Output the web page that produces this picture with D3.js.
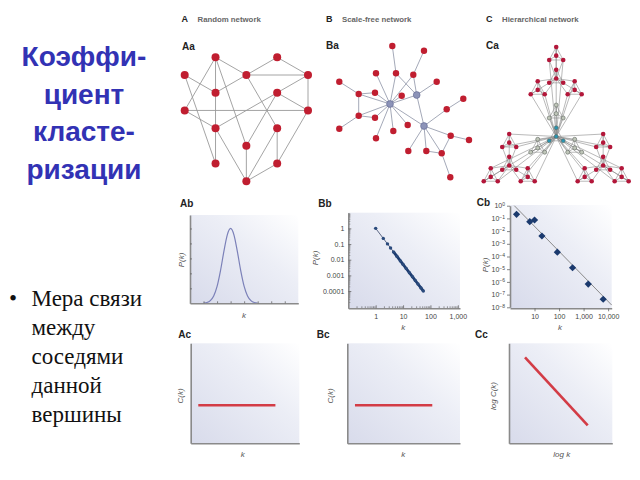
<!DOCTYPE html>
<html>
<head>
<meta charset="utf-8">
<script src="https://cdn.jsdelivr.net/npm/d3@7"></script>
<style>
  html, body { margin: 0; padding: 0; background: #fff; }
  svg { display: block; }
</style>
</head>
<body>
<svg id="chart" width="640" height="480"></svg>
<script>
//
// Clustering coefficient slide: three network types with P(k) and C(k) plots
//

// ---------- text ----------
const titleLines = ["Коэффи-", "циент", "класте-", "ризации"];
const bulletLines = ["Мера связи", "между", "соседями", "данной", "вершины"];
const headLetters = ["A", "B", "C"];
const headTexts = ["Random network", "Scale-free network", "Hierarchical network"];
const panelTags = ["Aa", "Ba", "Ca", "Ab", "Bb", "Cb", "Ac", "Bc", "Cc"];

// ---------- Aa: random network (column, row) ----------
const randNodes = [[1,0],[3,0],[0,1],[2,1],[4,1],[1,2],[3,2],[0,3],[4,3],[1,4],[3,4],[2,5],[1,6],[3,6],[2,7]];
const randLinks = [[0,5],[0,3],[0,7],[0,11],[2,5],[2,12],[3,1],[1,4],[3,4],[3,5],[3,10],[4,6],[4,8],
                   [6,8],[6,9],[6,11],[7,8],[7,9],[5,9],[9,14],[9,12],[8,13],[10,13],[10,14],[11,14],[13,14]];

// ---------- Ba: scale-free network ----------
const sfNodes = [
  {id:"H1", x:65,    y:64,    hub:true},
  {id:"H2", x:91.7,  y:55,    hub:true},
  {id:"H3", x:99,    y:86,    hub:true},
  {id:"a",  x:67.3,  y:6},   {id:"b", x:99,    y:10.7},
  {id:"c",  x:51,    y:33.3},{id:"d", x:71,    y:33.3},
  {id:"e",  x:88.3,  y:34.7},{id:"f", x:111.7, y:41.7},
  {id:"g",  x:14.3,  y:41.7},{id:"h", x:33.7,  y:54},
  {id:"i",  x:50,    y:52.7},{id:"j", x:76.7,  y:55.7},
  {id:"k",  x:138.3, y:58.7},{id:"l", x:121.7, y:69.3},
  {id:"m",  x:33.7,  y:75.7},{id:"n", x:50,    y:77.7},
  {id:"o",  x:82.7,  y:85},  {id:"p", x:14.3,  y:88.7},
  {id:"q",  x:68.3,  y:91},  {id:"r", x:51,    y:98.3},
  {id:"s",  x:125.7, y:95.7},{id:"t", x:144,   y:100},
  {id:"u",  x:83.3,  y:111}, {id:"v", x:101.3, y:111},
  {id:"w",  x:116.7, y:113.3},{id:"x", x:125.3, y:137.3}
];
const sfLinks = [["a","d"],["d","H1"],["d","H2"],["b","e"],["e","H2"],["e","H1"],["c","H1"],["f","H2"],
  ["g","h"],["h","i"],["h","H1"],["h","m"],["i","H1"],["j","H1"],["H1","H2"],["H1","H3"],["H2","H3"],
  ["m","n"],["m","H1"],["m","p"],["n","H1"],["q","H1"],["r","H1"],["o","H1"],["H3","l"],["l","k"],
  ["H3","s"],["s","t"],["H3","u"],["H3","v"],["H3","w"],["v","w"],["w","s"],["w","x"]];

// ---------- Ca: hierarchical network ----------
const triDirs = [[0,-1],[-0.866,0.5],[0.866,0.5],[0,0]];   // three corners + centre
const hierRadii = [0.94, 0.37, 0.14];                       // cluster, module, node

// ---------- Ab: Poisson-like P(k) ----------
const abK = [1,1.25,1.5,1.75,2,2.25,2.5,2.75,3,3.25,3.5,3.75,4,4.25,4.5,4.75,5];
const abP = [0.01,0.05,0.18,0.49,1.13,2.17,3.45,4.56,5.0,4.56,3.45,2.17,1.13,0.49,0.18,0.05,0.01];

// ---------- Bb: power law P(k) ----------
const bbK = [1,1.9,2.7,3.5,4.5,6,8,10,13,17,22,28,35,45,55];
const bbP = [1,0.228,0.102,0.056,0.0314,0.0162,0.0084,0.005,0.00274,0.00148,0.00082,0.00047,0.00028,0.000158,0.0000995];
const bbTicksY = [1,0.1,0.01,0.001,0.0001];
const bbTicksX = [1,10,100,1000];

// ---------- Cb: measured P(k) ----------
const cbK = [1.85,6.4,10,20,85,355,1550,6300];
const cbP = [0.21,0.055,0.075,0.0041,0.00022,0.000013,0.00000068,0.000000043];
const cbFitK = [1.5,14000];
const cbFitP = [1,0.000000015];
const cbTicksY = [0,-1,-2,-3,-4,-5,-6,-7,-8];
const cbTicksX = [10,100,1000,10000];

// ---------- bottom row C(k) ----------
const acLine = [[0.7,0.38],[7.8,0.38]];
const bcLine = [[0.68,0.38],[7.54,0.38]];
const ccLine = [[1.55,8.6],[7.62,1.8]];

// ---------- colours ----------
const RED = "#c01e30";
const FONT = "Liberation Sans, Arial, sans-serif";

const svg = d3.select("#chart");

// plot background gradient
const grad = svg.append("defs").append("linearGradient")
    .attr("id", "bg").attr("x1", 0).attr("y1", 1).attr("x2", 1).attr("y2", 0);
grad.append("stop").attr("offset", 0).attr("stop-color", "#d8dbeb");
grad.append("stop").attr("offset", 0.6).attr("stop-color", "#eceef6");
grad.append("stop").attr("offset", 1).attr("stop-color", "#ffffff");

// ----------------------------------------
// LEFT TEXT
// ----------------------------------------
svg.append("g").selectAll("text").data(titleLines).join("text")
    .attr("x", 84).attr("y", (d, i) => 66 + i * 37.5)
    .attr("text-anchor", "middle")
    .attr("font-family", FONT).attr("font-weight", "bold").attr("font-size", 28)
    .attr("fill", "#3232b4")
    .text(d => d);

svg.append("text").attr("x", 13).attr("y", 306)
    .attr("text-anchor", "middle")
    .attr("font-family", "Liberation Serif, serif").attr("font-size", 23).attr("fill", "#111")
    .text("•");
svg.append("g").selectAll("text").data(bulletLines).join("text")
    .attr("x", 31.5).attr("y", (d, i) => 306 + i * 29)
    .attr("font-family", "Liberation Serif, serif").attr("font-size", 23).attr("fill", "#111")
    .text(d => d);

// ----------------------------------------
// HEADERS AND PANEL TAGS
// ----------------------------------------
const headX = [181.5, 326, 486];
headLetters.forEach((l, i) => {
    svg.append("text").attr("x", headX[i]).attr("y", 22.3)
        .attr("font-family", FONT).attr("font-weight", "bold").attr("font-size", 9).attr("fill", "#222")
        .text(l);
    svg.append("text").attr("x", headX[i] + 16).attr("y", 22.3)
        .attr("font-family", FONT).attr("font-weight", "bold").attr("font-size", 7.8).attr("fill", "#666")
        .text(headTexts[i]);
});
const tagPos = [[182,50],[326,49],[486,49],[180,206.5],[318.3,206.5],[476.7,206],[178.3,338.3],[316.7,338.3],[475,338.3]];
panelTags.forEach((t, i) => {
    svg.append("text").attr("x", tagPos[i][0]).attr("y", tagPos[i][1])
        .attr("font-family", FONT).attr("font-weight", "bold").attr("font-size", 10).attr("fill", "#222")
        .text(t);
});

// ----------------------------------------
// Aa RANDOM NETWORK
// ----------------------------------------
const ax = d3.scaleLinear().domain([0, 4]).range([184.7, 308]);
const ay = d3.scaleLinear().domain([0, 7]).range([57.3, 181.3]);
const gA = svg.append("g");
gA.selectAll("line").data(randLinks).join("line")
    .attr("x1", d => ax(randNodes[d[0]][0])).attr("y1", d => ay(randNodes[d[0]][1]))
    .attr("x2", d => ax(randNodes[d[1]][0])).attr("y2", d => ay(randNodes[d[1]][1]))
    .attr("stroke", "#9a9a9a").attr("stroke-width", 0.9);
gA.selectAll("circle").data(randNodes).join("circle")
    .attr("cx", d => ax(d[0])).attr("cy", d => ay(d[1])).attr("r", 4)
    .attr("fill", RED);

// ----------------------------------------
// Ba SCALE-FREE NETWORK
// ----------------------------------------
const bx = d3.scaleLinear().domain([0, 145]).range([325, 470]);
const by = d3.scaleLinear().domain([0, 148]).range([40, 188]);
const sfById = new Map(sfNodes.map(n => [n.id, n]));
const gB = svg.append("g");
gB.selectAll("line").data(sfLinks).join("line")
    .attr("x1", d => bx(sfById.get(d[0]).x)).attr("y1", d => by(sfById.get(d[0]).y))
    .attr("x2", d => bx(sfById.get(d[1]).x)).attr("y2", d => by(sfById.get(d[1]).y))
    .attr("stroke", "#9a9fb0").attr("stroke-width", 0.9);
gB.selectAll("circle").data(sfNodes).join("circle")
    .attr("cx", d => bx(d.x)).attr("cy", d => by(d.y))
    .attr("r", d => d.hub ? 3.4 : 3.2)
    .attr("fill", d => d.hub ? "#8c93b8" : RED)
    .attr("stroke", d => d.hub ? "#5f6790" : "none").attr("stroke-width", 0.6);

// ----------------------------------------
// Ca HIERARCHICAL NETWORK
// ----------------------------------------
const hierNodes = [];
const hierLinks = [];
const hid = (i2, i1, i0) => (i2 * 4 + i1) * 4 + i0;
triDirs.forEach((c2, i2) => {
    triDirs.forEach((c1, i1) => {
        triDirs.forEach((c0, i0) => {
            hierNodes.push({
                u: c2[0] * hierRadii[0] + c1[0] * hierRadii[1] + c0[0] * hierRadii[2],
                v: c2[1] * hierRadii[0] + c1[1] * hierRadii[1] + c0[1] * hierRadii[2],
                kind: i2 < 3 ? "red" : (i1 < 3 ? "grey" : "teal")
            });
        });
        // module is a full clique
        for (let a = 0; a < 4; a++)
            for (let b = a + 1; b < 4; b++)
                hierLinks.push([hid(i2, i1, a), hid(i2, i1, b)]);
    });
    // peripheral nodes of peripheral modules -> cluster centre
    for (let i1 = 0; i1 < 3; i1++)
        for (let i0 = 0; i0 < 3; i0++)
            hierLinks.push([hid(i2, i1, i0), hid(i2, 3, 3)]);
});
// outermost nodes of corner clusters -> global centre
for (let i2 = 0; i2 < 3; i2++)
    for (let i1 = 0; i1 < 3; i1++)
        for (let i0 = 0; i0 < 3; i0++)
            hierLinks.push([hid(i2, i1, i0), hid(3, 3, 3)]);

const cx = d3.scaleLinear().domain([-1, 1]).range([556.2 - 57.7, 556.2 + 57.7]);
const cy = d3.scaleLinear().domain([-1, 1]).range([136.5 - 61.7, 136.5 + 61.7]);
const gC = svg.append("g");
gC.selectAll("line").data(hierLinks).join("line")
    .attr("x1", d => cx(hierNodes[d[0]].u)).attr("y1", d => cy(hierNodes[d[0]].v))
    .attr("x2", d => cx(hierNodes[d[1]].u)).attr("y2", d => cy(hierNodes[d[1]].v))
    .attr("stroke", "#8a8a8a").attr("stroke-width", 0.6);
gC.selectAll("circle").data(hierNodes).join("circle")
    .attr("cx", d => cx(d.u)).attr("cy", d => cy(d.v))
    .attr("r", d => d.kind === "red" ? 2.3 : 2)
    .attr("fill", d => d.kind === "red" ? "#b3173a" : d.kind === "grey" ? "#bfc6b9" : "#2a94b0")
    .attr("stroke", d => d.kind === "red" ? "none" : "#5f665f").attr("stroke-width", 0.6);

// ----------------------------------------
// PLOT HELPERS
// ----------------------------------------
function plotBg(x, y) {
    svg.append("rect")
        .attr("x", x.range()[0]).attr("y", y.range()[1])
        .attr("width", x.range()[1] - x.range()[0]).attr("height", y.range()[0] - y.range()[1])
        .attr("fill", "url(#bg)");
}
function styleAxis(g) {
    g.select(".domain").attr("stroke", "#8a8a8a").attr("stroke-width", 1.6);
    g.selectAll(".tick line").attr("stroke", "#666").attr("stroke-width", 0.8);
    g.selectAll(".tick text").attr("font-family", FONT).attr("font-size", 7).attr("fill", "#444");
}
function axes(x, y, opts) {
    const o = Object.assign({xt: [], yt: [], size: -2, fx: "", fy: ""}, opts);
    svg.append("g").attr("transform", `translate(0,${y.range()[0]})`)
        .call(d3.axisBottom(x).tickValues(o.xt).tickSizeInner(o.sizeX ?? o.size).tickSizeOuter(0)
            .tickPadding(o.padX ?? 3).tickFormat(o.fx))
        .call(styleAxis);
    svg.append("g").attr("transform", `translate(${x.range()[0]},0)`)
        .call(d3.axisLeft(y).tickValues(o.yt).tickSizeInner(o.sizeY ?? o.size).tickSizeOuter(0)
            .tickPadding(o.padY ?? 3).tickFormat(o.fy))
        .call(styleAxis);
}
function axisTitle(x, y, txt, rot) {
    svg.append("text")
        .attr("transform", `translate(${x},${y})` + (rot ? " rotate(-90)" : ""))
        .attr("text-anchor", "middle")
        .attr("font-family", FONT).attr("font-style", "italic").attr("font-size", 8).attr("fill", "#555")
        .text(txt);
}

// ----------------------------------------
// Ab
// ----------------------------------------
const abX = d3.scaleLinear().domain([0, 8]).range([190, 298.3]);
const abY = d3.scaleLinear().domain([0, 5.9]).range([303.3, 215]);
plotBg(abX, abY);
svg.append("path").datum(abK.map((k, i) => [k, abP[i]]))
    .attr("d", d3.line().x(d => abX(d[0])).y(d => abY(d[1])).curve(d3.curveMonotoneX))
    .attr("fill", "none").attr("stroke", "#7b80b8").attr("stroke-width", 1.2);
axes(abX, abY, {xt: [1,2,3,4,5,6,7], yt: [1,2,3,4,5]});
axisTitle(184, 260, "P(k)", true);
axisTitle(244, 318, "k", false);

// ----------------------------------------
// Bb
// ----------------------------------------
const bbX = d3.scaleLog().domain([0.1, 1200]).range([348.3, 460]);
const bbY = d3.scaleLog().domain([0.0000079, 10]).range([308.3, 212.7]);
plotBg(bbX, bbY);
const minorX = [], minorY = [];
[0.1, 1, 10, 100].forEach(d => { for (let m = 2; m < 10; m++) minorX.push(d * m); });
[0.00001, 0.0001, 0.001, 0.01, 0.1, 1].forEach(d => { for (let m = 2; m < 10; m++) minorY.push(d * m); });
svg.append("g").attr("transform", `translate(0,${bbY.range()[0]})`)
    .call(d3.axisBottom(bbX).tickValues(minorX.filter(v => v < 1200)).tickSize(-2).tickFormat(""))
    .call(g => g.select(".domain").remove())
    .call(g => g.selectAll(".tick line").attr("stroke", "#555").attr("stroke-width", 0.6));
svg.append("g").attr("transform", `translate(${bbX.range()[0]},0)`)
    .call(d3.axisLeft(bbY).tickValues(minorY.filter(v => v < 10)).tickSize(-2).tickFormat(""))
    .call(g => g.select(".domain").remove())
    .call(g => g.selectAll(".tick line").attr("stroke", "#555").attr("stroke-width", 0.6));
axes(bbX, bbY, {xt: bbTicksX, yt: bbTicksY, size: -3, padX: 6, padY: 4,
    fx: d3.format(","), fy: d => d >= 1 ? "1" : String(d)});
svg.append("path").datum(bbK.map((k, i) => [k, bbP[i]]))
    .attr("d", d3.line().x(d => bbX(d[0])).y(d => bbY(d[1])))
    .attr("fill", "none").attr("stroke", "#5c6784").attr("stroke-width", 1);
svg.append("path").datum(bbK.map((k, i) => [k, bbP[i]]).filter(d => d[0] >= 4))
    .attr("d", d3.line().x(d => bbX(d[0])).y(d => bbY(d[1])))
    .attr("fill", "none").attr("stroke", "#1d3c70").attr("stroke-width", 2.8);
svg.append("g").selectAll("circle").data(bbK.map((k, i) => [k, bbP[i]])).join("circle")
    .attr("cx", d => bbX(d[0])).attr("cy", d => bbY(d[1])).attr("r", 1.7)
    .attr("fill", "#2a4a7c");
axisTitle(318, 258, "P(k)", true);
axisTitle(403.3, 330, "k", false);

// ----------------------------------------
// Cb
// ----------------------------------------
const cbX = d3.scaleLog().domain([1, 14000]).range([510, 611.7]);
const cbY = d3.scaleLog().domain([1e-8, 1]).range([307.3, 205.7]);
plotBg(cbX, d3.scaleLog().domain([1e-8, 1.05]).range([308.3, 205]));
svg.append("path").datum(cbFitK.map((k, i) => [k, cbFitP[i]]))
    .attr("d", d3.line().x(d => cbX(d[0])).y(d => cbY(d[1])))
    .attr("stroke", "#8a8a8a").attr("stroke-width", 1);
svg.append("g").attr("transform", `translate(0,${cbY.range()[0] + 1})`)
    .call(d3.axisBottom(cbX).tickValues(cbTicksX).tickSize(3).tickSizeOuter(0).tickPadding(3).tickFormat(d3.format(",")))
    .call(styleAxis);
svg.append("g").attr("transform", `translate(${cbX.range()[0]},0)`)
    .call(d3.axisLeft(cbY).tickValues(cbTicksY.map(e => Math.pow(10, e))).tickSize(3).tickSizeOuter(0).tickPadding(2)
        .tickFormat(""))
    .call(styleAxis)
    .call(g => g.selectAll(".tick text").each(function (d, i) {
        const t = d3.select(this).attr("dy", "0.3em");
        t.append("tspan").text("10");
        t.append("tspan").attr("dy", "-0.45em").attr("font-size", 5).text(cbTicksY[i] === 0 ? "0" : "−" + (-cbTicksY[i]));
    }));
svg.append("g").selectAll("path").data(cbK.map((k, i) => [k, cbP[i]])).join("path")
    .attr("transform", d => `translate(${cbX(d[0])},${cbY(d[1])}) rotate(45)`)
    .attr("d", d3.symbol().type(d3.symbolSquare).size(26))
    .attr("fill", "#1b3a6e");
axisTitle(487.5, 265, "P(k)", true);
axisTitle(560, 330, "k", false);

// ----------------------------------------
// Ac, Bc, Cc
// ----------------------------------------
const bottomPanels = [
    {x0: 190.7, x1: 299.3, line: acLine, lab: "C(k)", labX: 183, kx: 242.7, kt: "k"},
    {x0: 347.3, x1: 460,   line: bcLine, lab: "C(k)", labX: 332.5, kx: 403.3, kt: "k"},
    {x0: 509,   x1: 612.3, line: ccLine, lab: "log C(k)", labX: 496, kx: 561.7, kt: "log k"}
];
bottomPanels.forEach((p, i) => {
    const x = d3.scaleLinear().domain([0, 10]).range([p.x0, p.x1]);
    const y = d3.scaleLinear().domain(i === 2 ? [0, 10] : [0, 1]).range([443.3, 343.3]);
    plotBg(x, y);
    axes(x, y, {});
    svg.append("path").datum(p.line)
        .attr("d", d3.line().x(d => x(d[0])).y(d => y(d[1])))
        .attr("stroke", "#d33c46").attr("stroke-width", 2.6);
    axisTitle(p.labX, 396, p.lab, true);
    axisTitle(p.kx, 457, p.kt, false);
});
</script>
</body>
</html>
